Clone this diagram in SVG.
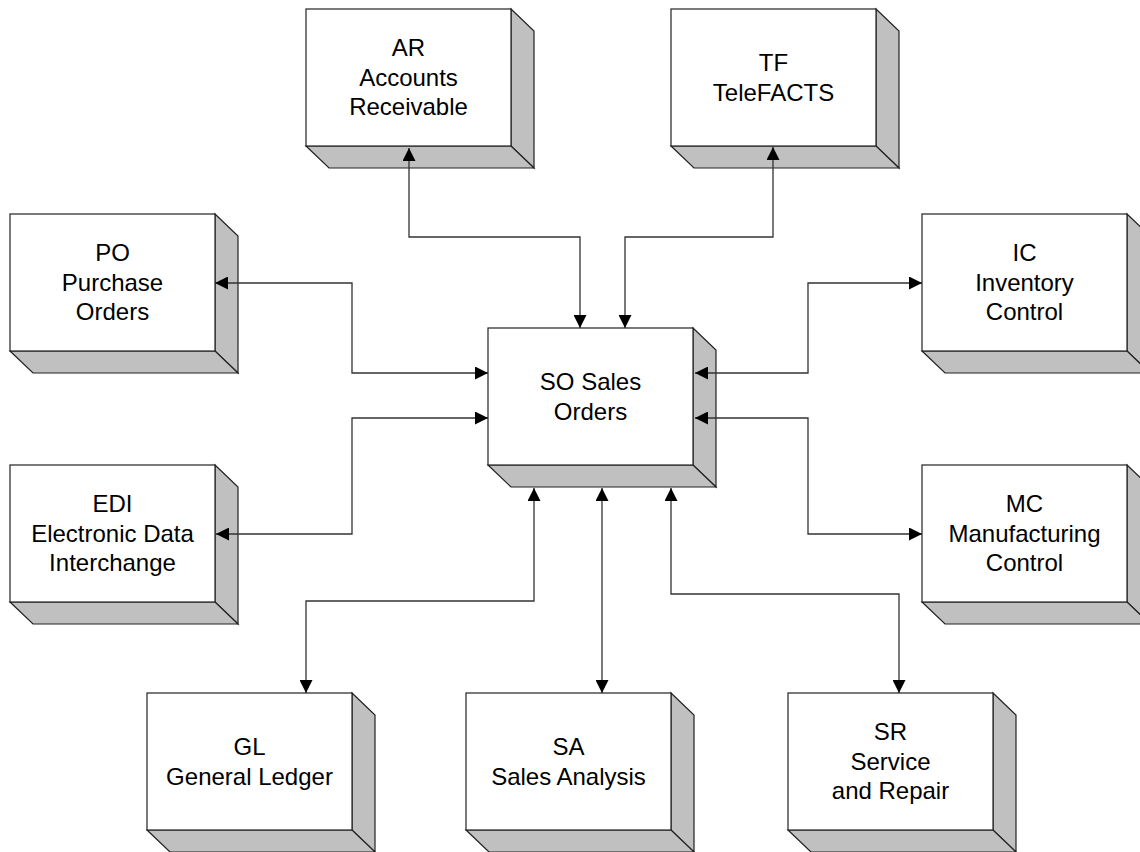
<svg xmlns="http://www.w3.org/2000/svg" width="1140" height="852" viewBox="0 0 1140 852">
<style>
.front{fill:#ffffff;stroke:#222;stroke-width:1.2}
.side{fill:#c0c0c0;stroke:#222;stroke-width:1.2;stroke-linejoin:miter}
.lbl{font-family:"Liberation Sans",Arial,sans-serif;font-size:24px;fill:#000;text-anchor:middle}
.conn{fill:none;stroke:#333;stroke-width:1.3}
</style>
<defs>
<marker id="ah" markerUnits="userSpaceOnUse" markerWidth="13" markerHeight="13" refX="13" refY="6.5" orient="auto-start-reverse" viewBox="0 0 13 13">
<path d="M0,0 L13,6.5 L0,13 Z" fill="#000"/>
</marker>
<g id="box3d">
<polygon class="side" points="205,0 228,22 228,159 205,137"/>
<polygon class="side" points="0,137 205,137 228,159 23,159"/>
<rect class="front" x="0" y="0" width="205" height="137"/>
</g>
</defs>
<rect width="1140" height="852" fill="#fff"/>

<g id="node-AR">
<use href="#box3d" x="306" y="9"/>
<text class="lbl" x="408.5" y="56">AR</text>
<text class="lbl" x="408.5" y="85.5">Accounts</text>
<text class="lbl" x="408.5" y="115">Receivable</text>
</g>
<g id="node-TF">
<use href="#box3d" x="671" y="9"/>
<text class="lbl" x="773.5" y="71">TF</text>
<text class="lbl" x="773.5" y="100.5">TeleFACTS</text>
</g>
<g id="node-PO">
<use href="#box3d" x="10" y="214"/>
<text class="lbl" x="112.5" y="261">PO</text>
<text class="lbl" x="112.5" y="290.5">Purchase</text>
<text class="lbl" x="112.5" y="320">Orders</text>
</g>
<g id="node-IC">
<use href="#box3d" x="922" y="214"/>
<text class="lbl" x="1024.5" y="261">IC</text>
<text class="lbl" x="1024.5" y="290.5">Inventory</text>
<text class="lbl" x="1024.5" y="320">Control</text>
</g>
<g id="node-SO">
<use href="#box3d" x="488" y="328"/>
<text class="lbl" x="590.5" y="390">SO Sales</text>
<text class="lbl" x="590.5" y="419.5">Orders</text>
</g>
<g id="node-EDI">
<use href="#box3d" x="10" y="465"/>
<text class="lbl" x="112.5" y="512">EDI</text>
<text class="lbl" x="112.5" y="541.5">Electronic Data</text>
<text class="lbl" x="112.5" y="571">Interchange</text>
</g>
<g id="node-MC">
<use href="#box3d" x="922" y="465"/>
<text class="lbl" x="1024.5" y="512">MC</text>
<text class="lbl" x="1024.5" y="541.5">Manufacturing</text>
<text class="lbl" x="1024.5" y="571">Control</text>
</g>
<g id="node-GL">
<use href="#box3d" x="147" y="693"/>
<text class="lbl" x="249.5" y="755">GL</text>
<text class="lbl" x="249.5" y="784.5">General Ledger</text>
</g>
<g id="node-SA">
<use href="#box3d" x="466" y="693"/>
<text class="lbl" x="568.5" y="755">SA</text>
<text class="lbl" x="568.5" y="784.5">Sales Analysis</text>
</g>
<g id="node-SR">
<use href="#box3d" x="788" y="693"/>
<text class="lbl" x="890.5" y="740">SR</text>
<text class="lbl" x="890.5" y="769.5">Service</text>
<text class="lbl" x="890.5" y="799">and Repair</text>
</g>

<g id="connectors">
<path class="conn" d="M409,148 V237 H580 V328" marker-start="url(#ah)" marker-end="url(#ah)"/>
<path class="conn" d="M773,147 V237 H625 V328" marker-start="url(#ah)" marker-end="url(#ah)"/>
<path class="conn" d="M215,283 H352 V373 H488" marker-start="url(#ah)" marker-end="url(#ah)"/>
<path class="conn" d="M216,534 H352 V418 H488" marker-start="url(#ah)" marker-end="url(#ah)"/>
<path class="conn" d="M922,283 H808 V373 H695" marker-start="url(#ah)" marker-end="url(#ah)"/>
<path class="conn" d="M922,534 H808 V418 H695" marker-start="url(#ah)" marker-end="url(#ah)"/>
<path class="conn" d="M534,488 V601 H306 V693" marker-start="url(#ah)" marker-end="url(#ah)"/>
<path class="conn" d="M602,488 V693" marker-start="url(#ah)" marker-end="url(#ah)"/>
<path class="conn" d="M671,488 V594 H899 V693" marker-start="url(#ah)" marker-end="url(#ah)"/>
</g>
</svg>
